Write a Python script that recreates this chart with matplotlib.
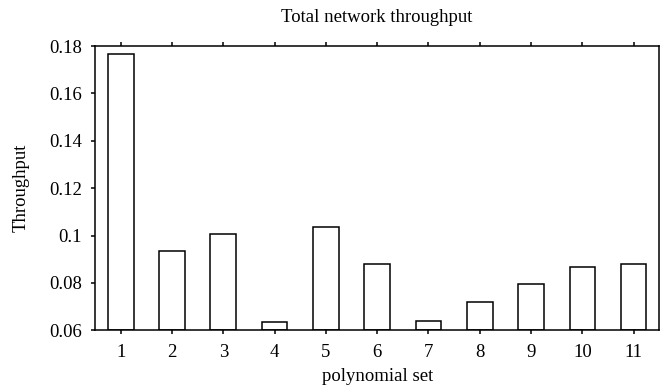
import matplotlib
matplotlib.use("Agg")
import matplotlib.pyplot as plt

sets = [1, 2, 3, 4, 5, 6, 7, 8, 9, 10, 11]
throughput = [0.1766, 0.0936, 0.1007, 0.0636, 0.1036, 0.0880, 0.0641, 0.0721, 0.0797, 0.0866, 0.0880]
yticks = [0.06, 0.08, 0.1, 0.12, 0.14, 0.16, 0.18]
ytick_labels = ["0.06", "0.08", "0.1", "0.12", "0.14", "0.16", "0.18"]

plt.rcParams['font.family'] = ['Liberation Serif', 'DejaVu Serif']

fig = plt.figure(figsize=(6.65, 3.89), dpi=100)
ax = fig.add_axes([0.1429, 0.1509, 0.9914 - 0.1429, 0.8817 - 0.1509])

base = 0.06
ax.bar(sets, [v - base for v in throughput], bottom=base, width=0.5,
       facecolor='white', edgecolor='black', linewidth=1.1)

ax.set_xlim(0.5, 11.5)
ax.set_ylim(0.06, 0.18)
ax.set_xticks(sets)
ax.set_xticklabels([str(s) for s in sets])
ax.set_yticks(yticks)
ax.set_yticklabels(ytick_labels)

for sp in ax.spines.values():
    sp.set_linewidth(1.1)

ax.tick_params(axis='x', direction='out', length=3, width=1.1, top=True, bottom=True,
               labelsize=13.5, pad=7)
ax.tick_params(axis='y', direction='out', length=3, width=1.1, left=True, right=False,
               labelsize=13.5, pad=6.5)

ax.set_xlabel("polynomial set", fontsize=13.5, labelpad=5)
ax.set_ylabel("Throughput", fontsize=13.5, labelpad=14)
ax.set_title("Total network throughput", fontsize=13.5, pad=17)

fig.savefig("out.png", dpi=100)
